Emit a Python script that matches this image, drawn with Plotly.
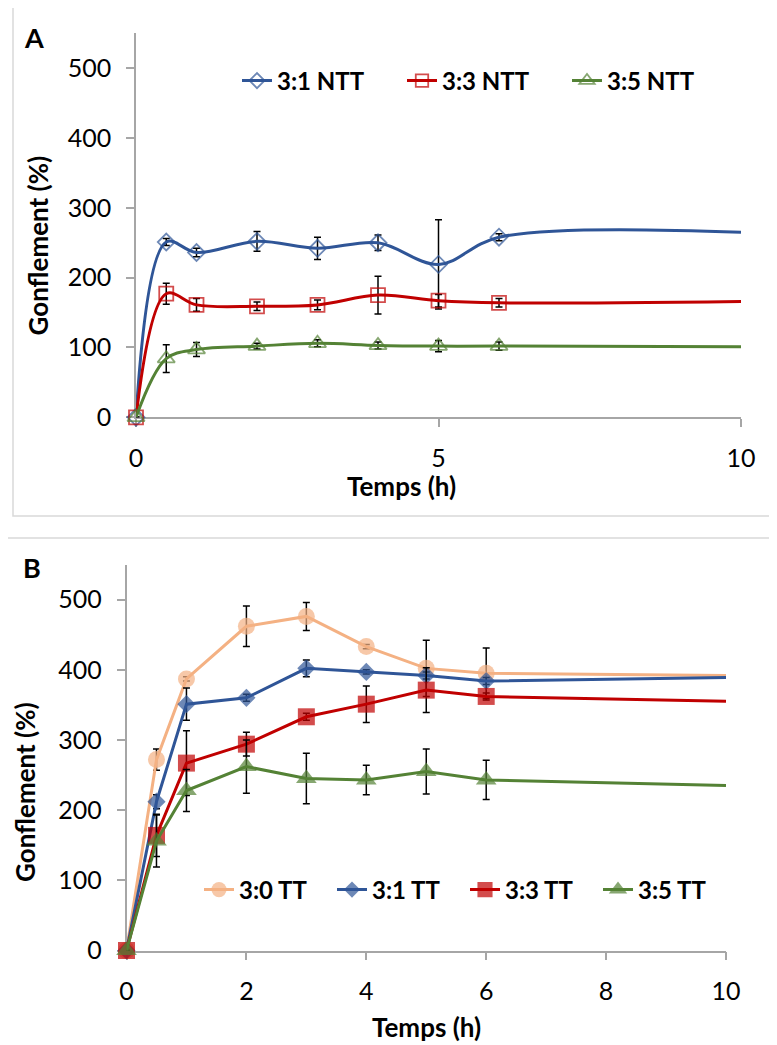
import plotly.graph_objects as go

# the page body adds an 8px margin, so the figure is drawn 8px right and down
OFF = 8
W, H = 777 - OFF, 1045 - OFF

# panel A: gonflement, non traité (NTT)
t_a = [0, 0.5, 1, 2, 3, 4, 5, 6, 10]
ntt_31 = [0, 251, 236, 252, 242, 250, 219, 258, 265]
ntt_31_err = [0, 5, 6, 14, 16, 11, 64, 5]
ntt_33 = [0, 177, 161, 159, 161, 175, 167, 164, 166]
ntt_33_err = [0, 15, 9, 6, 7, 27, 9, 6]
ntt_35 = [0, 84, 97, 102, 106, 103, 102, 102, 101]
ntt_35_err = [0, 20, 10, 4, 5, 5, 8, 6]

# panel B: traité (TT)
t_b = [0, 0.5, 1, 2, 3, 4, 5, 6, 10]
tt_30 = [0, 272, 387, 462, 476, 433, 402, 395, 392]
tt_30_err = [0, 15, 3, 29, 20, 3, 40, 36]
tt_31 = [0, 212, 351, 360, 402, 397, 392, 384, 389]
tt_31_err = [0, 10, 23, 5, 12, 3, 5, 5]
tt_33 = [0, 164, 267, 294, 333, 351, 371, 362, 355]
tt_33_err = [0, 30, 46, 17, 5, 26, 32, 5]
tt_35 = [0, 156, 228, 262, 245, 243, 255, 243, 235]
tt_35_err = [0, 37, 30, 38, 36, 21, 32, 28]

FONT = "Lato"
AXC = "#A6A6A6"


def px_x(p):
    return (p - OFF) / W


def px_y(p):
    return 1 - (p - OFF) / H


def sizes(n, s):
    # last point (t=10) only carries the line, no marker
    return [s] * (n - 1) + [0]


fig = go.Figure()

series_a = [
    ("3:1 NTT", ntt_31, ntt_31_err, "#2F5597", "diamond-open", 13),
    ("3:3 NTT", ntt_33, ntt_33_err, "#C00000", "square-open", 14),
    ("3:5 NTT", ntt_35, ntt_35_err, "#548235", "triangle-up-open", 15),
]
for name, y, err, col, sym, ms in series_a:
    fig.add_trace(go.Scatter(
        x=t_a, y=y, name=name, mode="lines+markers", xaxis="x", yaxis="y",
        legend="legend", cliponaxis=False,
        line=dict(color=col, width=3, shape="spline", smoothing=1),
        marker=dict(symbol=sym, size=sizes(len(t_a), ms), color=col, line=dict(color=col, width=1.8)),
        error_y=dict(type="data", array=err, color="black", thickness=1.5, width=3.5),
    ))

series_b = [
    ("3:0 TT", tt_30, tt_30_err, "#F4B183", "circle", 17),
    ("3:1 TT", tt_31, tt_31_err, "#2F5597", "diamond", 14),
    ("3:3 TT", tt_33, tt_33_err, "#C00000", "square", 17),
    ("3:5 TT", tt_35, tt_35_err, "#548235", "triangle-up", 18),
]
for name, y, err, col, sym, ms in series_b:
    fig.add_trace(go.Scatter(
        x=t_b, y=y, name=name, mode="lines+markers", xaxis="x2", yaxis="y2",
        legend="legend2", cliponaxis=False,
        line=dict(color=col, width=3),
        marker=dict(symbol=sym, size=sizes(len(t_b), ms), color=col, line=dict(width=0)),
        error_y=dict(type="data", array=err, color="black", thickness=1.5, width=3.5),
    ))

axis_common = dict(
    showline=True, linecolor=AXC, linewidth=1.5, ticks="outside", ticklen=8,
    tickcolor=AXC, tickwidth=1.5, showgrid=False, zeroline=False,
    tickfont=dict(family=FONT, size=25, color="black"), layer="below traces",
)
xcommon = dict(axis_common, ticklabelstandoff=10)
ycommon = dict(axis_common, ticklabelstandoff=10)

leg_font = dict(family=FONT, size=24, color="black", weight="bold")

fig.update_layout(
    width=W, height=H, template="none",
    margin=dict(l=0, r=0, t=0, b=0),
    paper_bgcolor="white", plot_bgcolor="white",
    xaxis=dict(domain=[px_x(136), px_x(741)], range=[0, 10], tickvals=[0, 5, 10],
               anchor="y", **xcommon),
    yaxis=dict(domain=[px_y(417.3), px_y(33.3)], range=[0, 550], tickvals=[0, 100, 200, 300, 400, 500],
               anchor="x", **ycommon),
    xaxis2=dict(domain=[px_x(126.5), px_x(726)], range=[0, 10], tickvals=[0, 2, 4, 6, 8, 10],
                anchor="y2", **xcommon),
    yaxis2=dict(domain=[px_y(950.5), px_y(564.5)], range=[0, 550], tickvals=[0, 100, 200, 300, 400, 500],
                anchor="x2", **ycommon),
    legend=dict(orientation="h", x=px_x(237), y=px_y(81), xanchor="left", yanchor="middle",
                bgcolor="rgba(0,0,0,0)", font=leg_font,
                entrywidth=120, entrywidthmode="pixels", itemwidth=30, tracegroupgap=0),
    legend2=dict(orientation="h", x=px_x(199), y=px_y(890), xanchor="left", yanchor="middle",
                 bgcolor="rgba(0,0,0,0)", font=leg_font,
                 entrywidth=88, entrywidthmode="pixels", itemwidth=30, tracegroupgap=0),
    showlegend=True,
)

# panel frames
fig.add_shape(type="rect", xref="paper", yref="paper", x0=px_x(13), x1=px_x(771),
              y0=px_y(516), y1=px_y(7), line=dict(color="#D9D9D9", width=1.5), layer="below")
fig.add_shape(type="rect", xref="paper", yref="paper", x0=px_x(5), x1=px_x(776.5),
              y0=px_y(1060), y1=px_y(538), line=dict(color="#D9D9D9", width=1.5), layer="below")

bold = dict(family=FONT, size=26, color="black", weight="bold")
big = dict(family=FONT, size=27, color="black", weight="bold")
notes = [
    ("A", 34, 37, 0, big),
    ("B", 32, 567, 0, big),
    ("Gonflement (%)", 37.5, 246, -90, bold),
    ("Gonflement (%)", 25, 792, -90, bold),
    ("Temps (h)", 402, 486, 0, bold),
    ("Temps (h)", 427, 1027, 0, bold),
]
for txt, x, y, ang, f in notes:
    fig.add_annotation(text=txt, xref="paper", yref="paper", x=px_x(x), y=px_y(y),
                       xanchor="center", yanchor="middle", showarrow=False, textangle=ang, font=f)

fig.write_html("out.html")
